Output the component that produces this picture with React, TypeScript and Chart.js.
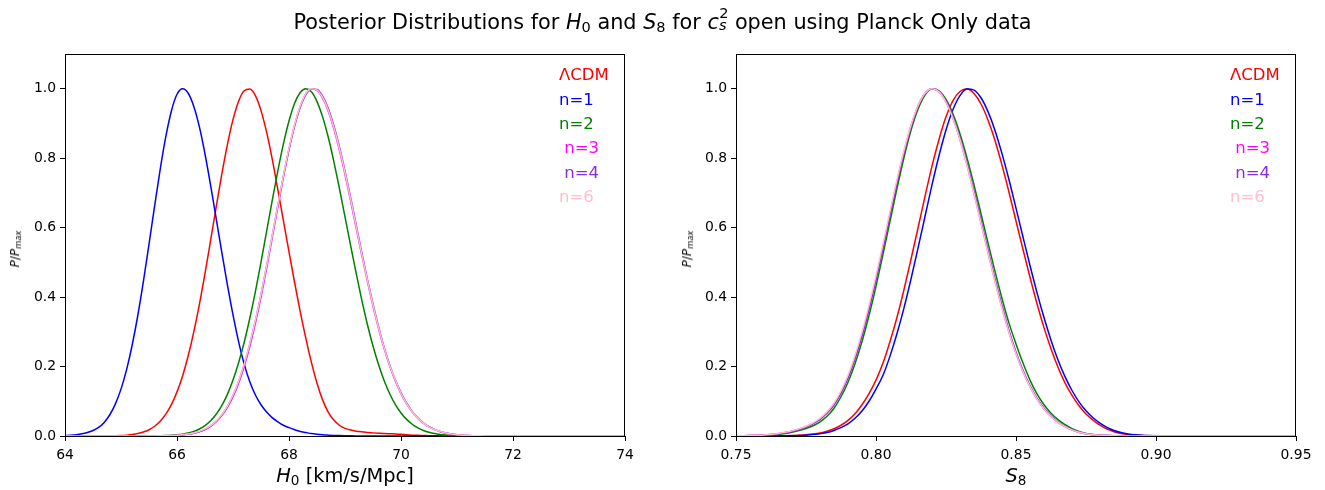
import React, { useEffect, useRef } from "react";
import { Chart, registerables } from "chart.js";

Chart.register(...registerables);

// ---------- labels & colours ----------
const SERIES_LABELS = ["ΛCDM", "n=1", "n=2", " n=3", " n=4", "n=6"];
const SERIES_COLORS = ["#ff0000", "#0000ff", "#008000", "#ff00ff", "#8a2be2", "#ffc0cb"];

// ---------- H0 panel ----------
const H0_X = [
  64.0, 64.1, 64.2, 64.3, 64.4, 64.5, 64.6, 64.7, 64.8, 64.9,
  65.0, 65.1, 65.2, 65.3, 65.4, 65.5, 65.6, 65.7, 65.8, 65.9,
  66.0, 66.1, 66.2, 66.3, 66.4, 66.5, 66.6, 66.7, 66.8, 66.9,
  67.0, 67.1, 67.2, 67.3, 67.4, 67.5, 67.6, 67.7, 67.8, 67.9,
  68.0, 68.1, 68.2, 68.3, 68.4, 68.5, 68.6, 68.7, 68.8, 68.9,
  69.0, 69.1, 69.2, 69.3, 69.4, 69.5, 69.6, 69.7, 69.8, 69.9,
  70.0, 70.1, 70.2, 70.3, 70.4, 70.5, 70.6, 70.7, 70.8, 70.9,
  71.0, 71.1, 71.2, 71.3, 71.4, 71.5,
  72.0, 73.0, 74.0,
];

const H0_LCDM = [
  0, 0, 0, 0, 0.0001, 0.0001, 0.0002, 0.0003, 0.0005, 0.0008,
  0.0014, 0.0024, 0.004, 0.0069, 0.0114, 0.0181, 0.0281, 0.0426, 0.0629, 0.0904,
  0.127, 0.173, 0.231, 0.3, 0.379, 0.468, 0.563, 0.66, 0.754, 0.839,
  0.911, 0.964, 0.994, 0.999, 0.98, 0.937, 0.875, 0.798, 0.71, 0.62,
  0.53, 0.442, 0.358, 0.282, 0.212, 0.152, 0.104, 0.069, 0.046, 0.031,
  0.022, 0.017, 0.014, 0.012, 0.01, 0.009, 0.008, 0.007, 0.0065, 0.006,
  0.005, 0.0035, 0.0025, 0.002, 0.0015, 0.001, 0.0007, 0.0005, 0.0004, 0.0003,
  0.0002, 0.0001, 0, 0, 0, 0,
  0, 0, 0,
];

const H0_N1 = [
  0.0012, 0.0022, 0.0038, 0.0063, 0.0102, 0.016, 0.0248, 0.0392, 0.0612, 0.0926,
  0.135, 0.191, 0.262, 0.347, 0.445, 0.552, 0.662, 0.768, 0.862, 0.936,
  0.984, 1.0, 0.987, 0.949, 0.89, 0.812, 0.722, 0.626, 0.529, 0.435,
  0.349, 0.272, 0.207, 0.156, 0.118, 0.09, 0.069, 0.053, 0.041, 0.031,
  0.024, 0.018, 0.013, 0.01, 0.007, 0.005, 0.0035, 0.0025, 0.0017, 0.0011,
  0.0007, 0.0004, 0.0002, 0.0001, 0, 0, 0, 0, 0, 0,
  0, 0, 0, 0, 0, 0, 0, 0, 0, 0,
  0, 0, 0, 0, 0, 0,
  0, 0, 0,
];

const H0_N2 = [
  0, 0, 0, 0, 0, 0, 0, 0, 0, 0,
  0, 0, 0, 0, 0.0001, 0.0002, 0.0004, 0.0007, 0.0012, 0.002,
  0.0033, 0.0053, 0.0085, 0.0132, 0.0202, 0.0301, 0.0439, 0.0628, 0.0878, 0.12,
  0.161, 0.211, 0.27, 0.339, 0.416, 0.501, 0.589, 0.678, 0.763, 0.841,
  0.907, 0.958, 0.989, 1.0, 0.991, 0.963, 0.919, 0.861, 0.791, 0.713,
  0.631, 0.549, 0.468, 0.391, 0.321, 0.259, 0.205, 0.159, 0.121, 0.0905,
  0.0664, 0.0478, 0.0338, 0.0234, 0.016, 0.0107, 0.007, 0.0045, 0.0028, 0.0017,
  0.001, 0.0007, 0.0004, 0.0003, 0.0002, 0.0001,
  0, 0, 0,
];

const H0_N3 = [
  0, 0, 0, 0, 0, 0, 0, 0, 0, 0,
  0, 0, 0, 0, 0, 0.0001, 0.0002, 0.0004, 0.0006, 0.001,
  0.0017, 0.0029, 0.0048, 0.0077, 0.0121, 0.0186, 0.0278, 0.0408, 0.0586, 0.0822,
  0.113, 0.152, 0.2, 0.258, 0.325, 0.4, 0.483, 0.571, 0.66, 0.746,
  0.826, 0.895, 0.949, 0.985, 1.0, 0.995, 0.973, 0.936, 0.885, 0.823,
  0.753, 0.677, 0.599, 0.52, 0.445, 0.374, 0.309, 0.251, 0.201, 0.158,
  0.122, 0.0925, 0.0691, 0.0508, 0.0367, 0.026, 0.0182, 0.0125, 0.0084, 0.0056,
  0.0036, 0.0023, 0.0014, 0.0009, 0.0005, 0.0003,
  0, 0, 0,
];

const H0_N4 = [
  0, 0, 0, 0, 0, 0, 0, 0, 0, 0,
  0, 0, 0, 0, 0, 0.0001, 0.0002, 0.0004, 0.0007, 0.0011,
  0.0018, 0.003, 0.005, 0.008, 0.0126, 0.0193, 0.0289, 0.0423, 0.0607, 0.085,
  0.117, 0.157, 0.206, 0.265, 0.332, 0.407, 0.489, 0.576, 0.663, 0.747,
  0.825, 0.893, 0.946, 0.982, 0.999, 0.998, 0.979, 0.944, 0.894, 0.833,
  0.763, 0.687, 0.608, 0.528, 0.452, 0.38, 0.314, 0.255, 0.204, 0.161,
  0.125, 0.095, 0.071, 0.0525, 0.038, 0.027, 0.019, 0.013, 0.0088, 0.0059,
  0.0038, 0.0024, 0.0015, 0.0009, 0.0005, 0.0003,
  0, 0, 0,
];

const H0_N6 = [
  0, 0, 0, 0, 0, 0, 0, 0, 0, 0,
  0, 0, 0, 0, 0, 0.0001, 0.0003, 0.0005, 0.0008, 0.0013,
  0.0021, 0.0034, 0.0055, 0.0087, 0.0134, 0.0203, 0.03, 0.0436, 0.062, 0.0862,
  0.118, 0.158, 0.207, 0.266, 0.333, 0.408, 0.49, 0.577, 0.665, 0.75,
  0.829, 0.897, 0.95, 0.986, 1.0, 0.996, 0.975, 0.939, 0.889, 0.828,
  0.758, 0.682, 0.603, 0.524, 0.448, 0.377, 0.311, 0.253, 0.202, 0.16,
  0.123, 0.0935, 0.07, 0.0515, 0.037, 0.0265, 0.0186, 0.0128, 0.0086, 0.0057,
  0.0037, 0.0023, 0.0014, 0.0009, 0.0005, 0.0003,
  0, 0, 0,
];

// ---------- S8 panel ----------
const S8_X = [
  0.75, 0.7525, 0.755, 0.7575, 0.76, 0.7625, 0.765, 0.7675,
  0.77, 0.7725, 0.775, 0.7775, 0.78, 0.7825, 0.785, 0.7875,
  0.79, 0.7925, 0.795, 0.7975, 0.8, 0.8025, 0.805, 0.8075,
  0.81, 0.8125, 0.815, 0.8175, 0.82, 0.8225, 0.825, 0.8275,
  0.83, 0.8325, 0.835, 0.8375, 0.84, 0.8425, 0.845, 0.8475,
  0.85, 0.8525, 0.855, 0.8575, 0.86, 0.8625, 0.865, 0.8675,
  0.87, 0.8725, 0.875, 0.8775, 0.88, 0.8825, 0.885, 0.8875,
  0.89, 0.8925, 0.895, 0.8975, 0.9, 0.9025, 0.905, 0.9075,
  0.91, 0.93, 0.95,
];

const S8_LCDM = [
  0, 0, 0, 0, 0.0001, 0.0002, 0.0004, 0.0008,
  0.0013, 0.0021, 0.0035, 0.0056, 0.0087, 0.0138, 0.021, 0.031,
  0.045, 0.064, 0.09, 0.122, 0.161, 0.21, 0.272, 0.342,
  0.422, 0.509, 0.599, 0.69, 0.777, 0.854, 0.919, 0.966,
  0.992, 1.0, 0.986, 0.956, 0.91, 0.851, 0.78, 0.702,
  0.619, 0.537, 0.457, 0.381, 0.312, 0.251, 0.198, 0.153,
  0.117, 0.087, 0.0636, 0.0457, 0.031, 0.02, 0.0125, 0.0075,
  0.0045, 0.0026, 0.0015, 0.0009, 0.0005, 0.0002, 0.0001, 0,
  0, 0, 0,
];

const S8_N1 = [
  0, 0, 0, 0, 0.0001, 0.0002, 0.0003, 0.0005,
  0.0009, 0.0015, 0.0025, 0.004, 0.0065, 0.01, 0.016, 0.024,
  0.035, 0.051, 0.072, 0.1, 0.135, 0.175, 0.23, 0.295,
  0.369, 0.452, 0.541, 0.632, 0.723, 0.807, 0.881, 0.94,
  0.98, 0.999, 0.996, 0.974, 0.934, 0.88, 0.813, 0.738,
  0.656, 0.573, 0.491, 0.413, 0.341, 0.276, 0.219, 0.171,
  0.131, 0.0983, 0.0724, 0.0524, 0.0372, 0.025, 0.016, 0.0098,
  0.0058, 0.0034, 0.0019, 0.0011, 0.0006, 0.0003, 0.0002, 0.0001,
  0, 0, 0,
];

const S8_N2 = [
  0.0003, 0.0005, 0.0008, 0.0013, 0.002, 0.0032, 0.005, 0.0075,
  0.011, 0.0155, 0.0215, 0.0295, 0.041, 0.057, 0.08, 0.113,
  0.155, 0.208, 0.272, 0.347, 0.431, 0.523, 0.618, 0.713,
  0.802, 0.88, 0.941, 0.982, 1.0, 0.994, 0.969, 0.927,
  0.87, 0.801, 0.723, 0.64, 0.556, 0.474, 0.396, 0.325,
  0.265, 0.21, 0.161, 0.121, 0.09, 0.0657, 0.0471, 0.0331,
  0.021, 0.013, 0.0075, 0.0042, 0.0023, 0.0012, 0.0006, 0.0003,
  0.0002, 0.0001, 0, 0, 0, 0, 0, 0,
  0, 0, 0,
];

const S8_N3 = [
  0.0004, 0.0007, 0.0012, 0.0019, 0.0029, 0.0045, 0.0068, 0.0098,
  0.0138, 0.0195, 0.0265, 0.036, 0.049, 0.067, 0.091, 0.125,
  0.169, 0.225, 0.291, 0.368, 0.453, 0.544, 0.639, 0.732,
  0.818, 0.892, 0.95, 0.987, 1.0, 0.991, 0.962, 0.915,
  0.854, 0.78, 0.699, 0.614, 0.529, 0.446, 0.369, 0.299,
  0.238, 0.185, 0.142, 0.106, 0.078, 0.056, 0.0395, 0.0272,
  0.0175, 0.0107, 0.0063, 0.0036, 0.002, 0.0011, 0.0006, 0.0003,
  0.0002, 0.0001, 0, 0, 0, 0, 0, 0,
  0, 0, 0,
];

const S8_N4 = [
  0.0004, 0.0007, 0.0011, 0.0018, 0.0028, 0.0043, 0.0066, 0.0095,
  0.0135, 0.019, 0.026, 0.0355, 0.048, 0.066, 0.09, 0.124,
  0.168, 0.223, 0.289, 0.366, 0.451, 0.542, 0.637, 0.73,
  0.816, 0.891, 0.949, 0.986, 1.0, 0.992, 0.964, 0.918,
  0.858, 0.785, 0.705, 0.62, 0.535, 0.452, 0.375, 0.304,
  0.242, 0.189, 0.145, 0.109, 0.08, 0.0575, 0.0406, 0.0281,
  0.018, 0.011, 0.0065, 0.0037, 0.002, 0.0011, 0.0006, 0.0003,
  0.0002, 0.0001, 0, 0, 0, 0, 0, 0,
  0, 0, 0,
];

const S8_N6 = [
  0.0005, 0.0008, 0.0013, 0.0021, 0.0032, 0.0049, 0.0073, 0.0105,
  0.0147, 0.0205, 0.028, 0.038, 0.0515, 0.07, 0.095, 0.13,
  0.175, 0.232, 0.299, 0.377, 0.462, 0.553, 0.647, 0.739,
  0.823, 0.895, 0.951, 0.987, 1.0, 0.991, 0.961, 0.914,
  0.853, 0.779, 0.698, 0.613, 0.528, 0.445, 0.368, 0.298,
  0.237, 0.185, 0.142, 0.106, 0.078, 0.056, 0.0395, 0.0272,
  0.0175, 0.0107, 0.0063, 0.0036, 0.002, 0.0011, 0.0006, 0.0003,
  0.0002, 0.0001, 0, 0, 0, 0, 0, 0,
  0, 0, 0,
];

// ---------- ticks ----------
const H0_TICKS = [64, 66, 68, 70, 72, 74];
const H0_TICK_LABELS = ["64", "66", "68", "70", "72", "74"];
const S8_TICKS = [0.75, 0.8, 0.85, 0.9, 0.95];
const S8_TICK_LABELS = ["0.75", "0.80", "0.85", "0.90", "0.95"];
const Y_TICKS = [0, 0.2, 0.4, 0.6, 0.8, 1.0];
const Y_TICK_LABELS = ["0.0", "0.2", "0.4", "0.6", "0.8", "1.0"];

const FONT = "DejaVu Sans";

function buildChart(
  canvas: HTMLCanvasElement,
  xs: number[],
  series: number[][],
  xmin: number,
  xmax: number,
  xticks: number[],
  xtickLabels: string[],
  yAxisWidth: number,
  padRight: number
) {
  const datasets = series.map((ys, i) => ({
    label: SERIES_LABELS[i],
    data: xs.map((x, j) => ({ x, y: ys[j] })),
    borderColor: SERIES_COLORS[i],
    backgroundColor: SERIES_COLORS[i],
    borderWidth: 1.5,
    pointRadius: 0,
    fill: false,
    cubicInterpolationMode: "monotone" as const,
    order: series.length - i,
  }));

  const framePlugin = {
    id: "frameAndLegend",
    afterDraw(chart: any) {
      const { ctx, chartArea: a } = chart;
      ctx.save();
      ctx.strokeStyle = "#000";
      ctx.lineWidth = 1;
      ctx.strokeRect(a.left + 0.5, a.top + 0.5, a.right - a.left - 1, a.bottom - a.top);
      ctx.font = `16.5px "${FONT}"`;
      ctx.textBaseline = "middle";
      ctx.textAlign = "left";
      SERIES_LABELS.forEach((lab, i) => {
        ctx.fillStyle = SERIES_COLORS[i];
        ctx.fillText(lab, a.right - 66, a.top + 22 + 24.4 * i);
      });
      ctx.restore();
    },
  };

  return new Chart(canvas, {
    type: "line",
    data: { datasets },
    options: {
      animation: false,
      responsive: false,
      devicePixelRatio: 1,
      layout: { padding: { left: 0, right: padRight, top: 54, bottom: 0 } },
      plugins: { legend: { display: false }, tooltip: { enabled: false }, title: { display: false } },
      scales: {
        x: {
          type: "linear",
          min: xmin,
          max: xmax,
          afterBuildTicks: (scale: any) => {
            scale.ticks = xticks.map((v) => ({ value: v }));
          },
          afterFit: (scale: any) => {
            scale.height = 54;
          },
          ticks: {
            autoSkip: false,
            maxRotation: 0,
            minRotation: 0,
            padding: 6,
            color: "#000",
            font: { family: FONT, size: 13.9 },
            callback: (_v: any, idx: number) => xtickLabels[idx],
          },
          grid: { display: true, drawOnChartArea: false, drawTicks: true, tickLength: 5, color: "#000", lineWidth: 1 },
          border: { display: true, color: "#000", width: 1 },
        },
        y: {
          type: "linear",
          min: 0,
          max: 1.1,
          afterBuildTicks: (scale: any) => {
            scale.ticks = Y_TICKS.map((v) => ({ value: v }));
          },
          afterFit: (scale: any) => {
            scale.width = yAxisWidth;
          },
          ticks: {
            autoSkip: false,
            padding: 4,
            color: "#000",
            font: { family: FONT, size: 13.9 },
            callback: (_v: any, idx: number) => Y_TICK_LABELS[idx],
          },
          grid: { display: true, drawOnChartArea: false, drawTicks: true, tickLength: 5, color: "#000", lineWidth: 1 },
          border: { display: true, color: "#000", width: 1 },
        },
      },
    } as any,
    plugins: [framePlugin],
  });
}

const subStyle: React.CSSProperties = { fontSize: "70%", verticalAlign: "-0.22em", fontStyle: "normal" };

function YLabel({ cx, cy }: { cx: number; cy: number }) {
  return (
    <div
      style={{
        position: "absolute",
        left: cx,
        top: cy,
        transform: "translate(-50%, -50%) rotate(-90deg)",
        fontFamily: FONT,
        fontSize: 12,
        lineHeight: "15px",
        whiteSpace: "nowrap",
        color: "#000",
      }}
    >
      <i>P</i>/<i>P</i>
      <span style={{ ...subStyle, fontStyle: "italic" }}>max</span>
    </div>
  );
}

export default function App() {
  const leftRef = useRef<HTMLCanvasElement>(null);
  const rightRef = useRef<HTMLCanvasElement>(null);

  useEffect(() => {
    const c1 = buildChart(
      leftRef.current!,
      H0_X,
      [H0_LCDM, H0_N1, H0_N2, H0_N3, H0_N4, H0_N6],
      64,
      74,
      H0_TICKS,
      H0_TICK_LABELS,
      65,
      37
    );
    const c2 = buildChart(
      rightRef.current!,
      S8_X,
      [S8_LCDM, S8_N1, S8_N2, S8_N3, S8_N4, S8_N6],
      0.75,
      0.95,
      S8_TICKS,
      S8_TICK_LABELS,
      74,
      29
    );
    return () => {
      c1.destroy();
      c2.destroy();
    };
  }, []);

  return (
    <div
      style={{
        position: "fixed",
        left: 0,
        top: 0,
        width: 1325,
        height: 490,
        background: "#fff",
        overflow: "hidden",
        fontFamily: FONT,
        color: "#000",
      }}
    >
      <canvas ref={leftRef} width={662} height={490} style={{ position: "absolute", left: 0, top: 0 }} />
      <canvas ref={rightRef} width={663} height={490} style={{ position: "absolute", left: 662, top: 0 }} />

      <div
        style={{
          position: "absolute",
          left: 0,
          top: 8,
          width: 1325,
          textAlign: "center",
          fontSize: 20.8,
          lineHeight: "26px",
          whiteSpace: "nowrap",
        }}
      >
        Posterior Distributions for <i>H</i>
        <span style={subStyle}>0</span> and <i>S</i>
        <span style={subStyle}>8</span> for <i>c</i>
        <span style={{ display: "inline-block", position: "relative", width: "0.45em", height: "1em" }}>
          <span style={{ position: "absolute", left: "0.03em", top: "-0.12em", fontSize: "70%", lineHeight: 1 }}>2</span>
          <span style={{ position: "absolute", left: 0, top: "0.68em", fontSize: "70%", lineHeight: 1, fontStyle: "italic" }}>s</span>
        </span>{" "}
        open using Planck Only data
      </div>

      <div
        style={{
          position: "absolute",
          left: 345,
          top: 478,
          transform: "translate(-50%, -50%)",
          fontSize: 19.4,
          lineHeight: "24px",
          whiteSpace: "nowrap",
        }}
      >
        <i>H</i>
        <span style={subStyle}>0</span> [km/s/Mpc]
      </div>
      <div
        style={{
          position: "absolute",
          left: 1016,
          top: 478,
          transform: "translate(-50%, -50%)",
          fontSize: 19.4,
          lineHeight: "24px",
          whiteSpace: "nowrap",
        }}
      >
        <i>S</i>
        <span style={subStyle}>8</span>
      </div>

      <YLabel cx={17} cy={249} />
      <YLabel cx={689} cy={249} />
    </div>
  );
}
